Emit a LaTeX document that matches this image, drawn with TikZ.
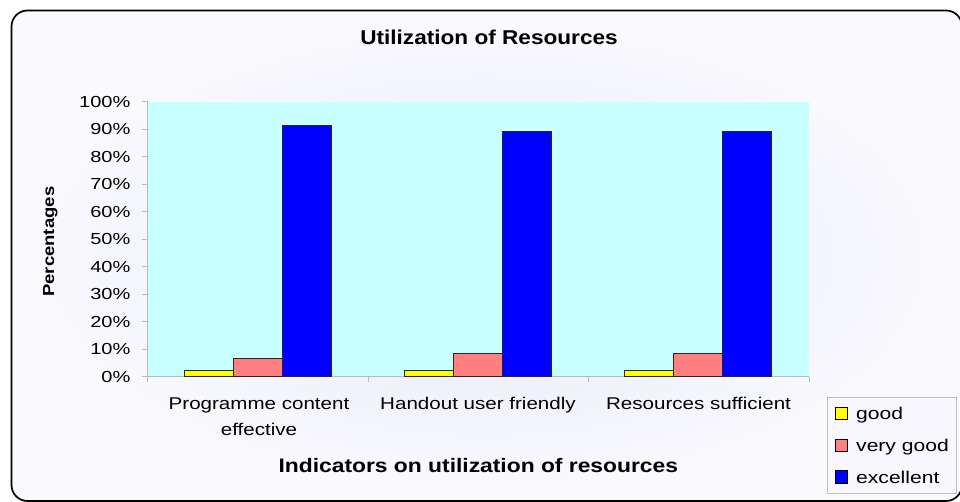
\documentclass[tikz,border=0pt]{standalone}
\usepackage{fontspec}
\setmainfont{Liberation Sans}
\definecolor{bgin}{RGB}{230,230,248}
\definecolor{bgout}{RGB}{250,250,254}
\definecolor{plotbg}{RGB}{200,255,255}
\definecolor{cgood}{RGB}{255,255,0}
\definecolor{cvgood}{RGB}{255,128,128}
\definecolor{cexc}{RGB}{0,0,255}
\definecolor{axisgray}{RGB}{185,185,195}
\definecolor{legbg}{RGB}{247,247,253}
\newcommand{\hs}[2]{\scalebox{#1}[1]{#2}}
\begin{document}
\begin{tikzpicture}[x=1pt,y=-1pt,
  bar/.style={draw=black!85, line width=0.9pt},
  ticklab/.style={anchor=base east, inner sep=0pt, font=\fontsize{16}{19}\selectfont},
  catlab/.style={anchor=base, inner sep=0pt, font=\fontsize{17}{20}\selectfont},
  leglab/.style={anchor=base west, inner sep=0pt, font=\fontsize{17}{20}\selectfont},
  legmark/.style={draw=black, line width=0.9pt, minimum size=12.5pt, inner sep=0pt},
  axline/.style={draw=axisgray, line width=0.8pt}]
\useasboundingbox (0,0) rectangle (960,502);
% frame with background
\shade[inner color=bgin, outer color=bgout, rounded corners=16pt] (11.5,10.5) rectangle (962,501);
\draw[line width=1.7pt, rounded corners=16pt] (11.5,10.5) rectangle (962,501);
% plot area
\fill[plotbg] (147.7,101.7) rectangle (809,376.7);
% axes
\draw[axline] (147.7,101.7) -- (147.7,376.7) -- (809,376.7);
\foreach \v in {0,10,...,100} {
  \draw[axline] (142,{376.7-2.75*\v}) -- (147.7,{376.7-2.75*\v});
  \node[ticklab] (tick\v) at (130.5,{376.7-2.75*\v+5.7}) {\hs{1.25}{\v\%}};
}
\foreach \k in {0,1,2,3} {
  \draw[axline] ({147.7+220.43*\k},376.7) -- ({147.7+220.43*\k},382);
}
% bars
\foreach \g/\a/\b/\c in {0/2.3/6.7/91.5, 1/2.2/8.5/89.1, 2/2.2/8.5/89.1} {
  \pgfmathsetmacro\xx{147.7+220.43*\g+36.3}
  \filldraw[bar, fill=cgood] (\xx,376.7) rectangle ({\xx+49},{376.7-2.75*\a});
  \filldraw[bar, fill=cvgood] ({\xx+49},376.7) rectangle ({\xx+98},{376.7-2.75*\b});
  \filldraw[bar, fill=cexc] ({\xx+98},376.7) rectangle ({\xx+147},{376.7-2.75*\c});
}
% category labels
\node[catlab] (c1a) at (259,409.3) {\hs{1.21}{Programme content}};
\node[catlab] (c1b) at (259,435) {\hs{1.21}{effective}};
\node[catlab] (c2) at (478,409.3) {\hs{1.21}{Handout user friendly}};
\node[catlab] (c3) at (698.5,409.3) {\hs{1.21}{Resources sufficient}};
% titles
\node[anchor=base, inner sep=0pt, font=\fontsize{20}{24}\selectfont\bfseries] (title) at (489,45) {\hs{1.13}{Utilization of Resources}};
\node[anchor=base, inner sep=0pt, font=\fontsize{19.5}{23}\selectfont\bfseries] (xtitle) at (478.3,472.3) {\hs{1.17}{Indicators on utilization of resources}};
\node[anchor=base, inner sep=0pt, rotate=90, font=\fontsize{16}{19}\selectfont\bfseries] (ytitle) at (54,241.7) {\hs{1.156}{Percentages}};
% legend
\draw[draw=black!25, fill=legbg, line width=0.8pt] (827.7,397.7) rectangle (956,493.3);
\node[legmark, fill=cgood] (m1) at (841.6,413.3) {};
\node[legmark, fill=cvgood] (m2) at (841.6,445.3) {};
\node[legmark, fill=cexc] (m3) at (841.6,477) {};
\node[leglab] (l1) at (856,419.6) {\hs{1.24}{good}};
\node[leglab] (l2) at (856,451.6) {\hs{1.24}{very good}};
\node[leglab] (l3) at (856,483.3) {\hs{1.24}{excellent}};
\end{tikzpicture}
\end{document}
